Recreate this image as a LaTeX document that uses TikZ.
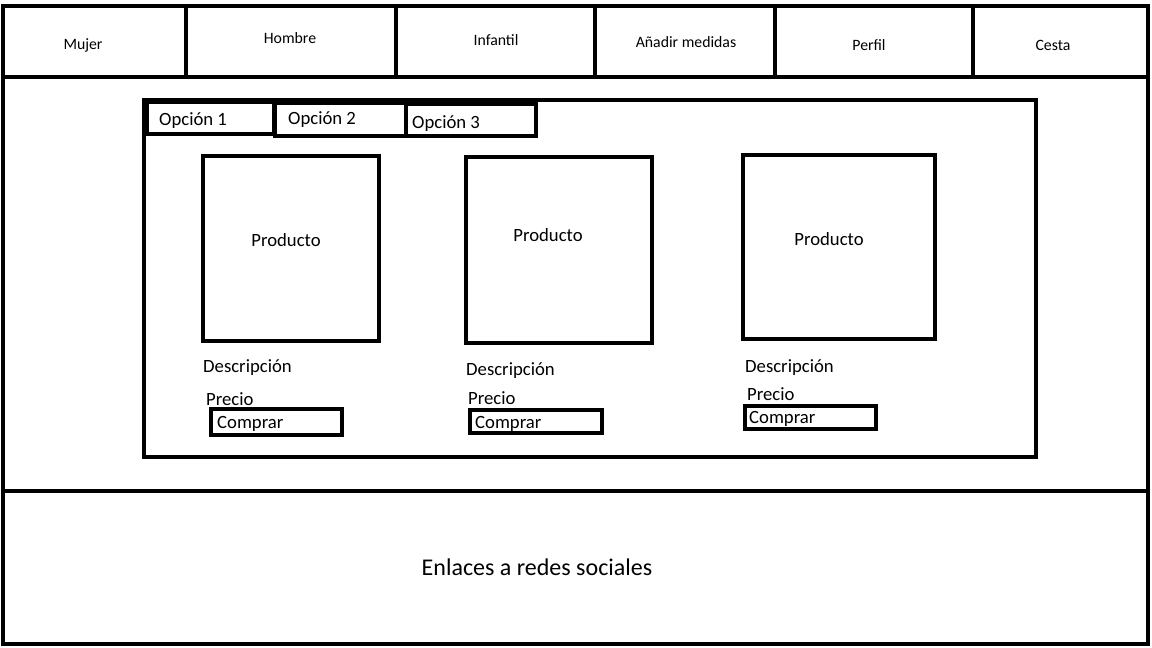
\documentclass[tikz,border=0pt]{standalone}
\usepackage{fontspec}
\setmainfont{Carlito}
\begin{document}
\begin{tikzpicture}[x=1pt,y=-1pt,
  box/.style={draw=black,line width=4.5pt,inner sep=0pt,outer sep=0pt,anchor=north west},
  menutxt/.style={font=\fontsize{15.8}{18}\selectfont,inner sep=0pt,yshift=-1pt},
  txt/.style={font=\fontsize{18.7}{22}\selectfont,inner sep=0pt,yshift=-1.5pt},
  lefttxt/.style={txt,anchor=west}]
\useasboundingbox[fill=white] (0,0) rectangle (1152,648);
% top menu
\node[box,minimum width=1145pt,minimum height=71pt] (menu) at (3,6) {};
\foreach \xx/\nm in {186/d1,396/d2,595/d3,775/d4,973/d5}{
  \coordinate (\nm t) at (\xx,6);
  \coordinate (\nm b) at (\xx,77);
  \draw[line width=4.5pt] (\nm t) -- (\nm b);
}
\node[menutxt] (m1) at (83,44) {Mujer};
\node[menutxt] (m2) at (290,37) {Hombre};
\node[menutxt] (m3) at (496,39) {Infantil};
\node[menutxt] (m4) at (686,41) {Añadir medidas};
\node[menutxt] (m5) at (869,44) {Perfil};
\node[menutxt] (m6) at (1053,44) {Cesta};
% main area
\node[box,minimum width=1145pt,minimum height=414pt] (main) at (3,77) {};
% footer
\node[box,minimum width=1145pt,minimum height=153pt] (foot) at (3,491) {};
\node[txt,font=\fontsize{24}{28}\selectfont] (links) at (537,566) {Enlaces a redes sociales};
% inner panel
\node[box,minimum width=892pt,minimum height=357pt] (panel) at (144,100) {};
% tabs
\node[box,minimum width=127pt,minimum height=32pt] (tab1) at (147,102) {};
\node[box,minimum width=131pt,minimum height=33pt] (tab2) at (275,103) {};
\node[box,minimum width=130pt,minimum height=32pt] (tab3) at (406,104) {};
\node[lefttxt] (t1) at (159,119) {Opción 1};
\node[lefttxt] (t2) at (288,118) {Opción 2};
\node[lefttxt] (t3) at (412,122) {Opción 3};
% products
\node[box,minimum width=176pt,minimum height=185pt] (p1) at (203,156) {};
\node[box,minimum width=186pt,minimum height=186pt] (p2) at (466,157) {};
\node[box,minimum width=192pt,minimum height=184pt] (p3) at (743,155) {};
\node[txt] (pt1) at (286,239) {Producto};
\node[txt] (pt2) at (548,234) {Producto};
\node[txt] (pt3) at (829,238) {Producto};
\node[lefttxt] (d1) at (203,366) {Descripción};
\node[lefttxt] (d2) at (466,369) {Descripción};
\node[lefttxt] (d3) at (745,366) {Descripción};
\node[lefttxt] (pr1) at (206,398) {Precio};
\node[lefttxt] (pr2) at (468,397) {Precio};
\node[lefttxt] (pr3) at (747,393) {Precio};
\node[box,minimum width=131pt,minimum height=26pt] (c1) at (211,409) {};
\node[box,minimum width=132pt,minimum height=23pt] (c2) at (470,410) {};
\node[box,minimum width=131pt,minimum height=23pt] (c3) at (745,406) {};
\node[lefttxt] (ct1) at (217,422) {Comprar};
\node[lefttxt] (ct2) at (475,422) {Comprar};
\node[lefttxt] (ct3) at (749,417) {Comprar};
\end{tikzpicture}
\end{document}
